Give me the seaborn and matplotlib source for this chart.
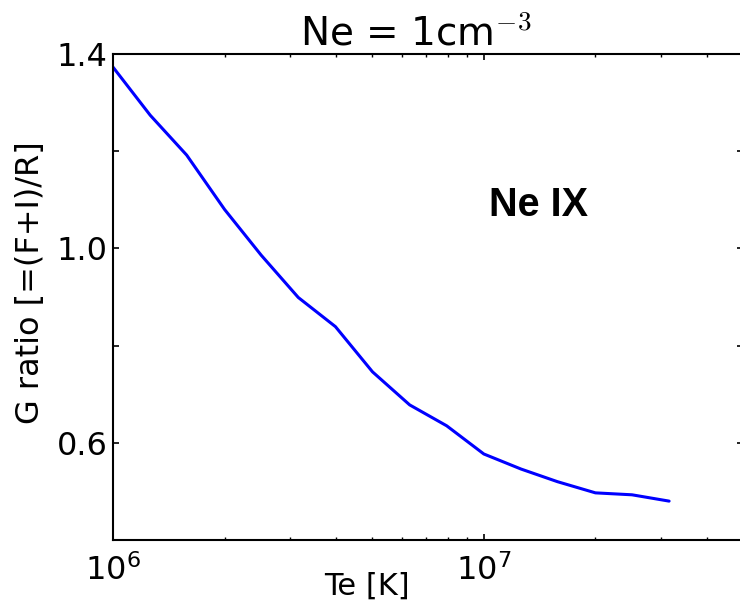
import numpy as np
import pandas as pd
import seaborn as sns
import matplotlib
matplotlib.use("Agg")
import matplotlib.pyplot as plt
from matplotlib.ticker import FixedLocator, FixedFormatter, LogLocator

# Electron temperature grid [K] and the G ratio of Ne IX at Ne = 1 cm^-3
te_kelvin = [1.00e6, 1.26e6, 1.58e6, 2.00e6, 2.51e6, 3.16e6, 3.98e6, 5.01e6,
             6.31e6, 7.94e6, 1.00e7, 1.26e7, 1.58e7, 2.00e7, 2.51e7, 3.16e7]
g_ratio = [1.373, 1.274, 1.192, 1.080, 0.986, 0.899, 0.839, 0.746,
           0.678, 0.635, 0.577, 0.546, 0.520, 0.497, 0.493, 0.480]

y_tick_values = [0.4, 0.6, 0.8, 1.0, 1.2, 1.4]
y_tick_labels = ["", "0.6", "", "1.0", "", "1.4"]

title_text = r"Ne = 1cm$^{-3}$"
x_label = "Te [K]"
y_label = "G ratio [=(F+I)/R]"
ion_label = "Ne IX"

sns.set_theme(style="white")
plt.rcParams["font.family"] = ["DejaVu Sans"]
plt.rcParams["mathtext.fontset"] = "cm"

df = pd.DataFrame({"Te": te_kelvin, "G": g_ratio})

fig = plt.figure(figsize=(7.40, 6.07), dpi=100)
ax = fig.add_axes([113 / 740, 67 / 607, 630 / 740, 486 / 607])

sns.lineplot(data=df, x="Te", y="G", ax=ax, color="#0000ff", linewidth=2.2)

ax.set_xscale("log")
ax.set_xlim(1e6, 5e7)
ax.set_ylim(0.4, 1.4)

ax.yaxis.set_major_locator(FixedLocator(y_tick_values))
ax.yaxis.set_major_formatter(FixedFormatter(y_tick_labels))
ax.xaxis.set_major_locator(LogLocator(base=10, numticks=10))
ax.xaxis.set_minor_locator(LogLocator(base=10, subs=np.arange(2, 10), numticks=20))

for side in ["left", "right", "top", "bottom"]:
    ax.spines[side].set_visible(True)
    ax.spines[side].set_color("black")
    ax.spines[side].set_linewidth(1.5)

ax.tick_params(which="both", direction="in", top=True, right=True,
               bottom=True, left=True, colors="black")
ax.tick_params(which="major", length=4.5, width=1.2, labelsize=23)
ax.tick_params(axis="y", which="major", pad=4)
ax.tick_params(axis="x", which="major", pad=10)
ax.tick_params(which="minor", length=2.5, width=1.0)

ax.set_xlabel(x_label, fontsize=22, color="black")
ax.set_ylabel(y_label, fontsize=23, color="black")
ax.xaxis.set_label_coords(0.403, -0.066)
ax.yaxis.set_label_coords(-0.106, 0.53)

ax.set_title(title_text, fontsize=28, color="black", pad=6, x=0.48)

ax.text(0.675, 0.69, ion_label, transform=ax.transAxes, ha="center",
        va="center", fontsize=28.5, fontweight="bold",
        family=["Liberation Sans", "DejaVu Sans"], color="black")

ax.grid(False)
fig.savefig("out.png", dpi=100, facecolor="white")
